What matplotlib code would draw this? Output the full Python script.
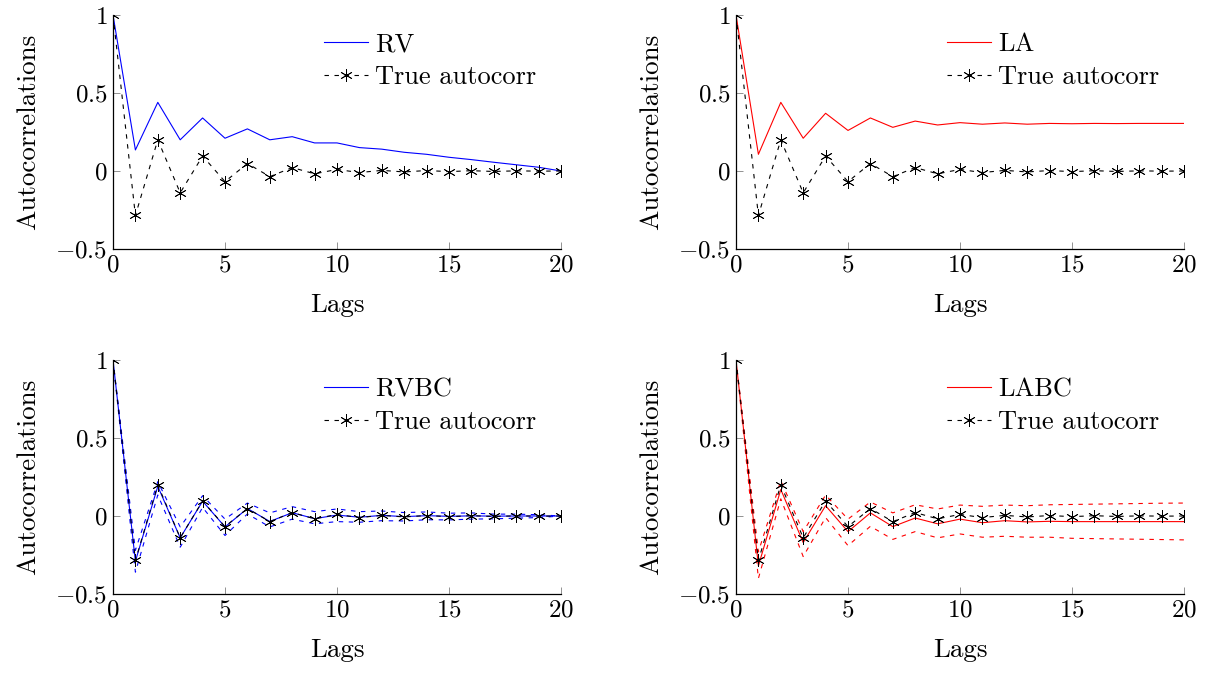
import numpy as np
import matplotlib
matplotlib.use("Agg")
import matplotlib.pyplot as plt

plt.rcParams['font.family'] = 'serif'
plt.rcParams['font.serif'] = ['cmr10']
plt.rcParams['mathtext.fontset'] = 'cm'
plt.rcParams['axes.formatter.use_mathtext'] = True
plt.rcParams['font.size'] = 19

lags = np.arange(21)

true_acf = [1, -0.285, 0.2, -0.14, 0.096, -0.068, 0.048, -0.036, 0.022, -0.018, 0.01,
            -0.01, 0.004, -0.006, 0.003, -0.004, 0.002, -0.003, 0.001, -0.001, 0.0]

rv = [1, 0.135, 0.44, 0.2, 0.34, 0.21, 0.27, 0.2, 0.22, 0.18, 0.18,
      0.15, 0.14, 0.12, 0.107, 0.088, 0.073, 0.056, 0.04, 0.024, 0.0]

la = [1, 0.107, 0.44, 0.21, 0.37, 0.26, 0.34, 0.28, 0.32, 0.295, 0.31,
      0.30, 0.308, 0.30, 0.305, 0.303, 0.305, 0.304, 0.305, 0.305, 0.305]

rvbc = [1, -0.29, 0.19, -0.14, 0.095, -0.07, 0.048, -0.035, 0.021, -0.017, 0.006,
        -0.008, 0.004, -0.004, 0.002, -0.002, 0.001, -0.001, 0.0, 0.0, 0.0]
rvbc_up = [1, -0.22, 0.22, -0.07, 0.13, -0.02, 0.083, 0.02, 0.06, 0.028, 0.045,
           0.028, 0.032, 0.022, 0.026, 0.018, 0.02, 0.012, 0.012, 0.008, 0.0]
rvbc_lo = [1, -0.36, 0.135, -0.2, 0.055, -0.125, 0.013, -0.07, -0.02, -0.05, -0.036,
           -0.04, -0.03, -0.032, -0.024, -0.025, -0.02, -0.018, -0.014, -0.01, 0.0]

labc = [1, -0.32, 0.17, -0.17, 0.066, -0.1, 0.02, -0.068, -0.013, -0.05, -0.02,
        -0.043, -0.03, -0.038, -0.034, -0.036, -0.036, -0.036, -0.036, -0.036, -0.036]
labc_up = [1, -0.23, 0.226, -0.1, 0.134, -0.02, 0.09, 0.02, 0.072, 0.045, 0.07,
           0.062, 0.07, 0.066, 0.072, 0.074, 0.076, 0.078, 0.08, 0.082, 0.083]
labc_lo = [1, -0.40, 0.11, -0.26, -0.01, -0.19, -0.066, -0.15, -0.1, -0.14, -0.115,
           -0.136, -0.13, -0.136, -0.136, -0.143, -0.145, -0.147, -0.149, -0.151, -0.153]

W, H = 1209, 675
fig = plt.figure(figsize=(W / 100, H / 100), dpi=100)

asterisk = (6, 2, 0)
dash = (0, (4, 5))


def make_ax(x0, x1, y0, y1):
    ax = fig.add_axes([x0 / W, 1 - y1 / H, (x1 - x0) / W, (y1 - y0) / H])
    ax.set_xlim(0, 20)
    ax.set_ylim(-0.5, 1)
    ax.set_xticks([0, 5, 10, 15, 20])
    ax.set_yticks([-0.5, 0, 0.5, 1])
    ax.set_yticklabels(['$-0.5$', '$0$', '$0.5$', '$1$'])
    ax.spines['top'].set_visible(False)
    ax.spines['right'].set_visible(False)
    ax.spines['left'].set_linewidth(0.9)
    ax.spines['bottom'].set_linewidth(0.9)
    ax.tick_params(direction='in', length=5, width=0.6, color='gray', labelsize=18, pad=4)
    ax.set_xlabel('Lags', fontsize=19.5, labelpad=12)
    ax.set_ylabel('Autocorrelations', fontsize=19.5, labelpad=11)
    return ax


def add_true(ax):
    ax.plot(lags, true_acf, color='black', lw=0.8, linestyle=dash,
            marker=asterisk, markersize=9, markeredgewidth=0.6, label='True autocorr', zorder=4)


def add_legend(ax):
    ax.legend(loc='upper right', bbox_to_anchor=(0.945, 0.925), frameon=False, fontsize=19,
              handlelength=1.67, handletextpad=0.27, labelspacing=0.35, borderpad=0,
              borderaxespad=0)


ax1 = make_ax(113, 561, 15, 249)
ax1.plot(lags, rv, color='blue', lw=0.8, label='RV')
add_true(ax1)
add_legend(ax1)

ax2 = make_ax(736, 1184, 15, 249)
ax2.plot(lags, la, color='red', lw=0.8, label='LA')
add_true(ax2)
add_legend(ax2)

ax3 = make_ax(113, 561, 360, 594)
ax3.plot(lags, rvbc, color='blue', lw=0.8, label='RVBC')
ax3.plot(lags, rvbc_up, color='blue', lw=0.8, linestyle=dash)
ax3.plot(lags, rvbc_lo, color='blue', lw=0.8, linestyle=dash)
add_true(ax3)
add_legend(ax3)

ax4 = make_ax(736, 1184, 360, 594)
ax4.plot(lags, labc, color='red', lw=0.8, label='LABC')
ax4.plot(lags, labc_up, color='red', lw=0.8, linestyle=dash)
ax4.plot(lags, labc_lo, color='red', lw=0.8, linestyle=dash)
add_true(ax4)
add_legend(ax4)

fig.savefig('out.png', dpi=100)
